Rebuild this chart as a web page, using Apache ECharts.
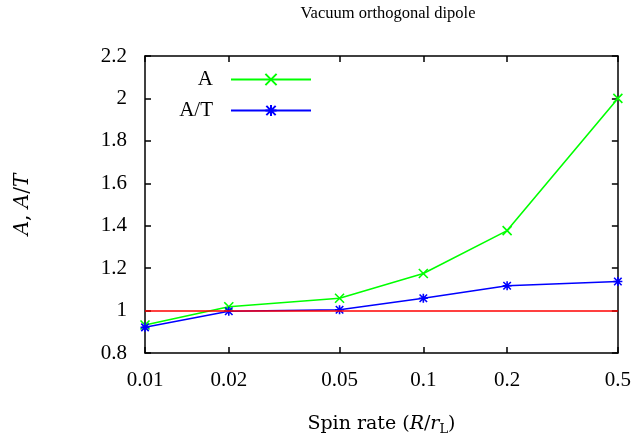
<!DOCTYPE html>
<html><head><meta charset="utf-8">
<script src="https://cdn.jsdelivr.net/npm/echarts@6/dist/echarts.min.js"></script>
<style>html,body{margin:0;padding:0;background:#fff}#c{width:634px;height:445px}</style>
</head><body><div id="c"></div>
<script>
var spinRates = [0.01, 0.02, 0.05, 0.1, 0.2, 0.5];
var valuesA = [0.932, 1.018, 1.058, 1.175, 1.377, 2.0];
var valuesAT = [0.921, 0.997, 1.004, 1.058, 1.117, 1.137];
var xTicks = [0.01, 0.02, 0.05, 0.1, 0.2, 0.5];
var yTicks = [0.8, 1, 1.2, 1.4, 1.6, 1.8, 2, 2.2];
var refLevel = 1;

var NUMFONT = 'Liberation Serif';
var FONT = 'DejaVu Serif';
var crossPath = 'path://M0,0L10,10M10,0L0,10';
var starPath = 'path://M0,0L10,10M10,0L0,10M5,-1L5,11M-1,5L11,5';
function pairs(xs, ys){ return xs.map(function(x,i){return [x, ys[i]];}); }

var chart = echarts.init(document.getElementById('c'));
var axisLineStyle = {color:'#000', width:1.5};
var xCommon = {
  type:'log', min:0.01, max:0.5, logBase:10,
  axisLine:{show:true, onZero:false, lineStyle:axisLineStyle},
  axisTick:{show:true, inside:true, length:6, lineStyle:axisLineStyle, customValues:xTicks},
  splitLine:{show:false}, minorTick:{show:false}, minorSplitLine:{show:false}
};
var yCommon = {
  type:'value', min:0.8, max:2.2, interval:0.2,
  axisLine:{show:true, onZero:false, lineStyle:axisLineStyle},
  axisTick:{show:true, inside:true, length:6, lineStyle:axisLineStyle},
  splitLine:{show:false}
};
chart.setOption({
  animation:false,
  backgroundColor:'#fff',
  title:{text:'Vacuum orthogonal dipole', left:383, top:0, textAlign:'center',
    textStyle:{fontFamily:NUMFONT, fontSize:16.5, fontWeight:'normal', color:'#000'}},
  grid:{left:145, right:12, top:56, bottom:92},
  legend:{orient:'vertical', right:322, top:69, padding:0, align:'right', itemWidth:80, itemHeight:14, itemGap:10,
    textStyle:{fontFamily:NUMFONT, fontSize:21, color:'#000', padding:[0,13,0,0]},
    data:['A','A/T']},
  xAxis:[
    Object.assign({}, xCommon, {position:'bottom',
      name:'{n|Spin rate (}{i|R}{n|/}{i|r}{s|L}{n|)}', nameLocation:'middle', nameGap:60,
      nameTextStyle:{rich:{
        n:{fontFamily:FONT, fontSize:19, color:'#000'},
        i:{fontFamily:FONT, fontSize:19, fontStyle:'italic', color:'#000'},
        s:{fontFamily:FONT, fontSize:13, color:'#000', verticalAlign:'bottom', padding:[10,0,0,0]}}},
      axisLabel:{show:true, customValues:xTicks, margin:17, fontFamily:NUMFONT, fontSize:21, color:'#000',
        formatter:function(v){return String(+v.toPrecision(3));}}}),
    Object.assign({}, xCommon, {position:'top', axisLabel:{show:false}})
  ],
  yAxis:[
    Object.assign({}, yCommon, {position:'left',
      name:'{i|A}{n|, }{i|A}{n|/}{i|T}', nameLocation:'middle', nameGap:112, nameRotate:90,
      nameTextStyle:{rich:{
        n:{fontFamily:FONT, fontSize:20, color:'#000'},
        i:{fontFamily:FONT, fontSize:20, fontStyle:'italic', color:'#000'}}},
      axisLabel:{margin:18, fontFamily:NUMFONT, fontSize:21, color:'#000',
        formatter:function(v){return String(+v.toFixed(1));}}}),
    Object.assign({}, yCommon, {position:'right', axisLabel:{show:false}})
  ],
  series:[
    {name:'A', type:'line', data:pairs(spinRates, valuesA), symbol:crossPath, symbolSize:9,
      lineStyle:{color:'#00ff00', width:1.6}, itemStyle:{color:'rgba(0,0,0,0)', borderColor:'#00ff00', borderWidth:1.6},
      markLine:{silent:true, symbol:'none', label:{show:false},
        lineStyle:{color:'#ff0000', width:1.6, type:'solid'}, data:[{yAxis:refLevel}]}},
    {name:'A/T', type:'line', data:pairs(spinRates, valuesAT), symbol:starPath, symbolSize:9,
      lineStyle:{color:'#0000ff', width:1.6}, itemStyle:{color:'rgba(0,0,0,0)', borderColor:'#0000ff', borderWidth:1.6}}
  ]
});
</script></body></html>
